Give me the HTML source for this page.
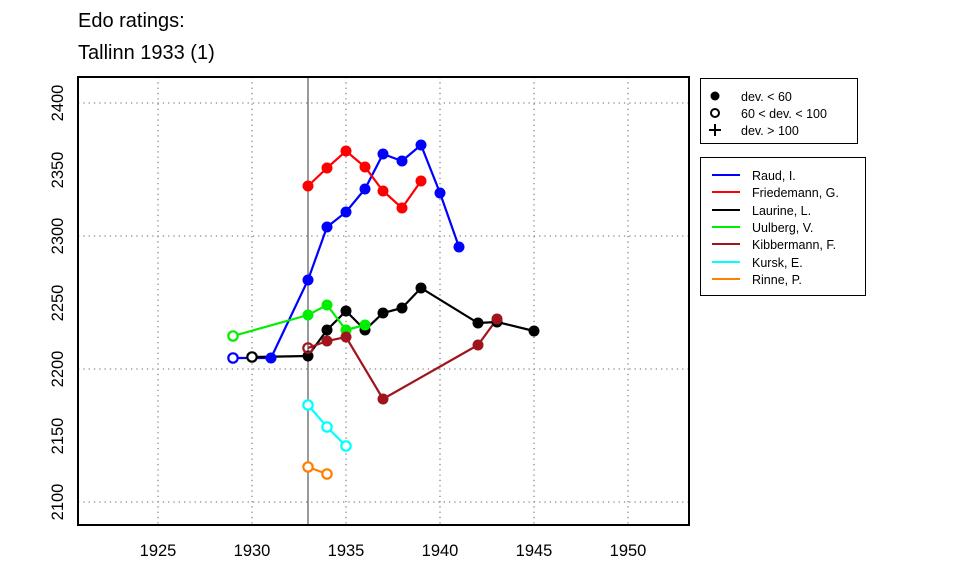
<!DOCTYPE html>
<html><head><style>body{margin:0;background:#fff}</style></head><body>
<svg width="960" height="576" xmlns="http://www.w3.org/2000/svg" font-family="Liberation Sans, Arial, sans-serif">
<text x="78" y="27" font-size="20">Edo ratings:</text>
<text x="78" y="59" font-size="20">Tallinn 1933 (1)</text>
<g stroke="#888" stroke-dasharray="1.3,4" stroke-width="1.3">
<line x1="158" y1="77" x2="158" y2="525"/><line x1="252" y1="77" x2="252" y2="525"/><line x1="346" y1="77" x2="346" y2="525"/><line x1="440" y1="77" x2="440" y2="525"/><line x1="534" y1="77" x2="534" y2="525"/><line x1="628" y1="77" x2="628" y2="525"/>
<line x1="78" y1="502" x2="689" y2="502"/><line x1="78" y1="369" x2="689" y2="369"/><line x1="78" y1="236" x2="689" y2="236"/><line x1="78" y1="103" x2="689" y2="103"/>
</g>
<line x1="308" y1="77" x2="308" y2="525" stroke="#000" stroke-width="0.8"/>
<g font-size="16.5" text-anchor="middle">
<text x="158" y="556">1925</text><text x="252" y="556">1930</text><text x="346" y="556">1935</text><text x="440" y="556">1940</text><text x="534" y="556">1945</text><text x="628" y="556">1950</text>
<text transform="translate(63,502) rotate(-90)">2100</text><text transform="translate(63,436) rotate(-90)">2150</text><text transform="translate(63,369) rotate(-90)">2200</text><text transform="translate(63,303) rotate(-90)">2250</text><text transform="translate(63,236) rotate(-90)">2300</text><text transform="translate(63,170) rotate(-90)">2350</text><text transform="translate(63,103) rotate(-90)">2400</text>
</g>
<g fill="none" stroke-width="2.2">
<polyline stroke="#0000ff" points="233,358 271,358 308,280 327,227 346,212 365,189 383,154 402,161 421,145 440,193 459,247"/>
<polyline stroke="#ff0000" points="308,186 327,168 346,151 365,167 383,191 402,208 421,181"/>
<polyline stroke="#000" points="252,357 308,356 327,330 346,311 365,330 383,313 402,308 421,288 478,323 497,322 534,331"/>
<polyline stroke="#00ee00" points="233,336 308,315 327,305 346,330 365,325"/>
<polyline stroke="#a0141e" points="308,348 327,341 346,337 383,399 478,345 497,319"/>
<polyline stroke="#00ffff" points="308,405 327,427 346,446"/>
<polyline stroke="#ff7f00" points="308,467 327,474"/>
</g>
<g fill="#0000ff"><circle cx="271" cy="358" r="5.5"/><circle cx="308" cy="280" r="5.5"/><circle cx="327" cy="227" r="5.5"/><circle cx="346" cy="212" r="5.5"/><circle cx="365" cy="189" r="5.5"/><circle cx="383" cy="154" r="5.5"/><circle cx="402" cy="161" r="5.5"/><circle cx="421" cy="145" r="5.5"/><circle cx="440" cy="193" r="5.5"/><circle cx="459" cy="247" r="5.5"/></g>
<g fill="#ff0000"><circle cx="308" cy="186" r="5.5"/><circle cx="327" cy="168" r="5.5"/><circle cx="346" cy="151" r="5.5"/><circle cx="365" cy="167" r="5.5"/><circle cx="383" cy="191" r="5.5"/><circle cx="402" cy="208" r="5.5"/><circle cx="421" cy="181" r="5.5"/></g>
<g fill="#000"><circle cx="308" cy="356" r="5.5"/><circle cx="327" cy="330" r="5.5"/><circle cx="346" cy="311" r="5.5"/><circle cx="365" cy="330" r="5.5"/><circle cx="383" cy="313" r="5.5"/><circle cx="402" cy="308" r="5.5"/><circle cx="421" cy="288" r="5.5"/><circle cx="478" cy="323" r="5.5"/><circle cx="497" cy="322" r="5.5"/><circle cx="534" cy="331" r="5.5"/></g>
<g fill="#00ee00"><circle cx="308" cy="315" r="5.5"/><circle cx="327" cy="305" r="5.5"/><circle cx="346" cy="330" r="5.5"/><circle cx="365" cy="325" r="5.5"/></g>
<g fill="#a0141e"><circle cx="327" cy="341" r="5.5"/><circle cx="346" cy="337" r="5.5"/><circle cx="383" cy="399" r="5.5"/><circle cx="478" cy="345" r="5.5"/><circle cx="497" cy="319" r="5.5"/></g>
<g fill="#fff" stroke-width="2.2">
<circle cx="233" cy="358" r="4.7" stroke="#0000ff"/><circle cx="252" cy="357" r="4.7" stroke="#000"/><circle cx="233" cy="336" r="4.7" stroke="#00ee00"/><circle cx="308" cy="348" r="4.7" stroke="#a0141e" fill="none"/>
<circle cx="308" cy="405" r="4.7" stroke="#00ffff"/><circle cx="327" cy="427" r="4.7" stroke="#00ffff"/><circle cx="346" cy="446" r="4.7" stroke="#00ffff"/>
<circle cx="308" cy="467" r="4.7" stroke="#ff7f00"/><circle cx="327" cy="474" r="4.7" stroke="#ff7f00"/>
</g>
<rect x="78" y="77" width="611" height="448" fill="none" stroke="#000" stroke-width="2"/>
<rect x="700.5" y="78.5" width="157" height="65" fill="none" stroke="#000" stroke-width="1"/>
<g font-size="12.5">
<circle cx="715" cy="96" r="4.5" fill="#000"/><text x="741" y="101">dev. &lt; 60</text>
<circle cx="715" cy="113" r="4" fill="none" stroke="#000" stroke-width="2"/><text x="741" y="118">60 &lt; dev. &lt; 100</text>
<path d="M709 130 h12 M715 124 v12" stroke="#000" stroke-width="2"/><text x="741" y="135">dev. &gt; 100</text>
</g>
<rect x="700.5" y="157.5" width="165" height="138" fill="none" stroke="#000" stroke-width="1"/>
<g font-size="12.5" stroke-width="2">
<line x1="712" y1="175" x2="740" y2="175" stroke="#0000ff"/><text x="752" y="180">Raud, I.</text>
<line x1="712" y1="192" x2="740" y2="192" stroke="#ff0000"/><text x="752" y="197">Friedemann, G.</text>
<line x1="712" y1="210" x2="740" y2="210" stroke="#000"/><text x="752" y="215">Laurine, L.</text>
<line x1="712" y1="227" x2="740" y2="227" stroke="#00ee00"/><text x="752" y="232">Uulberg, V.</text>
<line x1="712" y1="244" x2="740" y2="244" stroke="#a0141e"/><text x="752" y="249">Kibbermann, F.</text>
<line x1="712" y1="262" x2="740" y2="262" stroke="#00ffff"/><text x="752" y="267">Kursk, E.</text>
<line x1="712" y1="279" x2="740" y2="279" stroke="#ff7f00"/><text x="752" y="284">Rinne, P.</text>
</g>
</svg>
</body></html>
